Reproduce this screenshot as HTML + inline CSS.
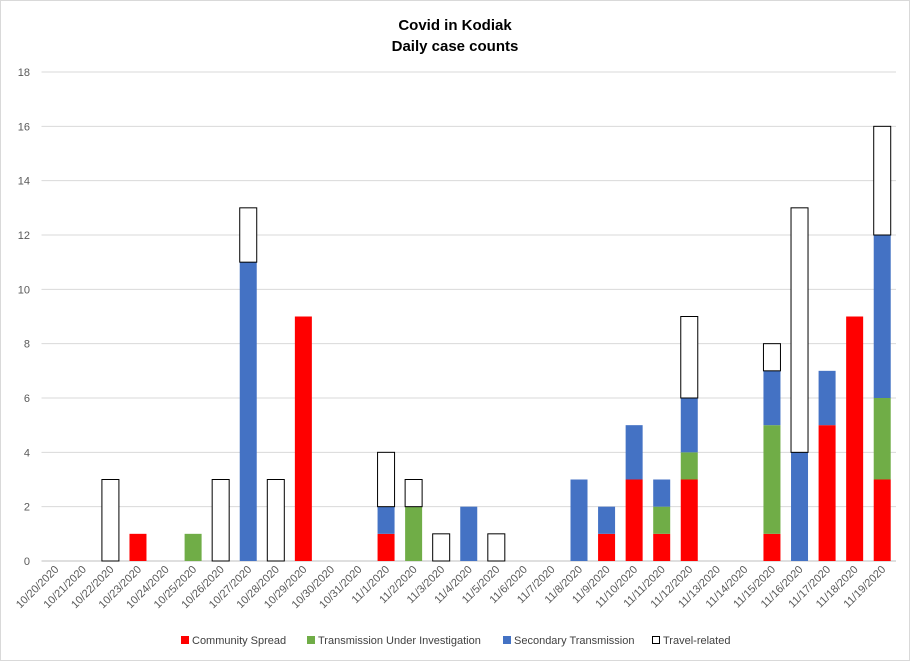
<!DOCTYPE html>
<html><head><meta charset="utf-8"><style>
body{margin:0;background:#fff;font-family:"Liberation Sans",sans-serif}
</style></head><body>
<svg width="910" height="661" xmlns="http://www.w3.org/2000/svg" font-family="Liberation Sans, sans-serif">
<rect x="0.5" y="0.5" width="909" height="660" fill="#fff" stroke="#d9d9d9"/>
<text x="455" y="30" text-anchor="middle" font-size="15" font-weight="bold">Covid in Kodiak</text>
<text x="455" y="51" text-anchor="middle" font-size="15" font-weight="bold">Daily case counts</text>
<g id="grid"></g><g id="bars"></g><g id="xl"></g>
<g font-size="11" fill="#404040">
<rect x="181" y="636" width="8" height="8" fill="#ff0000"/><text x="192" y="644">Community Spread</text>
<rect x="307" y="636" width="8" height="8" fill="#70ad47"/><text x="318" y="644">Transmission Under Investigation</text>
<rect x="503" y="636" width="8" height="8" fill="#4472c4"/><text x="514" y="644">Secondary Transmission</text>
<rect x="652.5" y="636.5" width="7" height="7" fill="#fff" stroke="#000"/><text x="663" y="644">Travel-related</text>
</g>
</svg>
<script>
const categories=["10/20/2020","10/21/2020","10/22/2020","10/23/2020","10/24/2020","10/25/2020","10/26/2020","10/27/2020","10/28/2020","10/29/2020","10/30/2020","10/31/2020","11/1/2020","11/2/2020","11/3/2020","11/4/2020","11/5/2020","11/6/2020","11/7/2020","11/8/2020","11/9/2020","11/10/2020","11/11/2020","11/12/2020","11/13/2020","11/14/2020","11/15/2020","11/16/2020","11/17/2020","11/18/2020","11/19/2020"];
const community=[0,0,0,1,0,0,0,0,0,9,0,0,1,0,0,0,0,0,0,0,1,3,1,3,0,0,1,0,5,9,3];
const tui=[0,0,0,0,0,1,0,0,0,0,0,0,0,2,0,0,0,0,0,0,0,0,1,1,0,0,4,0,0,0,3];
const secondary=[0,0,0,0,0,0,0,11,0,0,0,0,1,0,0,2,0,0,0,3,1,2,1,2,0,0,2,4,2,0,6];
const travel=[0,0,3,0,0,0,3,2,3,0,0,0,2,1,1,0,1,0,0,0,0,0,0,3,0,0,1,9,0,0,4];
const yTicks=[0,2,4,6,8,10,12,14,16,18];
const NS="http://www.w3.org/2000/svg";
const L=41.5,R=896,Y0=561,Y1=72,YMAX=18;
const step=(R-L)/categories.length,bw=17;
const y=v=>Y0-(Y0-Y1)*v/YMAX;
const xc=i=>L+step*(i+0.5);
function mk(t,a,p){const e=document.createElementNS(NS,t);for(const k in a)e.setAttribute(k,a[k]);p.appendChild(e);return e;}
const grid=document.getElementById('grid');
yTicks.forEach(t=>{
 const l=mk('line',{x1:L,x2:R,y1:y(t),y2:y(t),stroke:t===0?'#bfbfbf':'#d9d9d9'},grid);
 
 
 const tx=mk('text',{x:30,y:y(t)+4,'text-anchor':'end','font-size':11,fill:'#595959'},grid);
 tx.textContent=t;
 
 
});
const bars=document.getElementById('bars');
const series=[[community,'#ff0000','community'],[tui,'#70ad47','tui'],[secondary,'#4472c4','secondary'],[travel,'#ffffff','travel']];
categories.forEach((c,i)=>{
 let base=0;
 series.forEach(([arr,col,nm])=>{
  const v=arr[i];if(!v)return;
  const r=mk('rect',{x:xc(i)-bw/2,y:y(base+v),width:bw,height:y(base)-y(base+v),fill:col},bars);
  if(nm==='travel'){r.setAttribute('stroke','#000');r.setAttribute('stroke-width','1');}
  
  
  base+=v;
 });
 const t=mk('text',{x:xc(i)+4,y:570,'text-anchor':'end','font-size':11,fill:'#595959',transform:`rotate(-45 ${xc(i)+4} 570)`},document.getElementById('xl'));
 t.textContent=c;
 
 
});
</script>
</body></html>
